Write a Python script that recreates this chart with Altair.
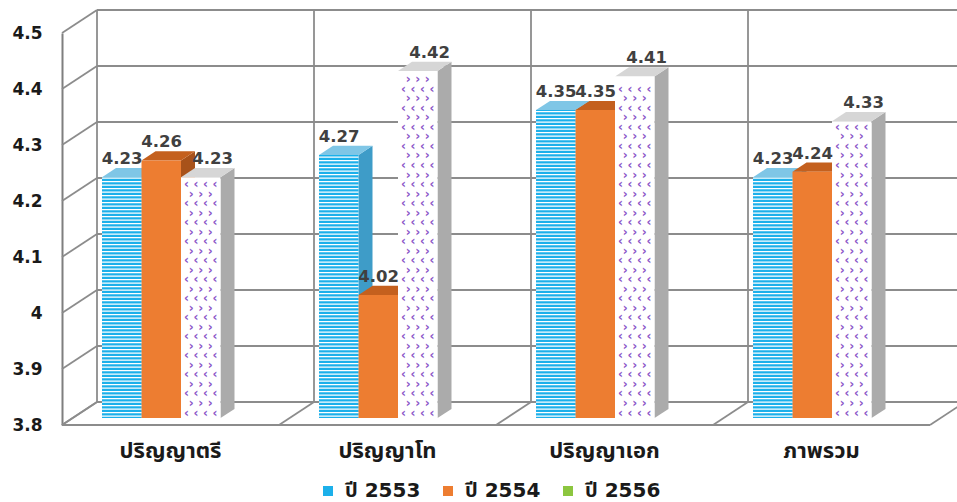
import altair as alt
import pandas as pd
import numpy as np

# ---------------- data ----------------
categories = ["ปริญญาตรี", "ปริญญาโท", "ปริญญาเอก", "ภาพรวม"]
series = ["ปี 2553", "ปี 2554", "ปี 2556"]
values_2553 = [4.23, 4.27, 4.35, 4.23]
values_2554 = [4.26, 4.02, 4.35, 4.24]
values_2556 = [4.23, 4.42, 4.41, 4.33]
y_ticks = [3.8, 3.9, 4.0, 4.1, 4.2, 4.3, 4.4, 4.5]

front_colors = ["#1CB0EA", "#ED7D31", "#FFFFFF"]
top_colors = ["#7FC6E6", "#C4601E", "#D6D6D6"]
side_colors = ["#3E9CC8", "#A8521A", "#ABABAB"]
legend_colors = ["#1CB0EA", "#ED7D31", "#8CC63F"]

# ---------------- 3D geometry (style) ----------------
Y0, Y1 = 3.8, 4.5
NCAT = len(categories)
DX = 35 / 217      # depth shift in category units
DY = 23 / 560      # depth shift in value units
F0 = 0.30          # depth of bar front
BD = 0.40          # bar depth
LEFT = 0.136
BW = 0.182

all_values = [values_2553, values_2554, values_2556]

fronts, tops, sides, legend_pts, labels = [], [], [], [], []
stripes, marks = [], []
for i, cat in enumerate(categories):
    for j, s in enumerate(series):
        v = all_values[j][i]
        bid = f"{i}-{j}"
        x0 = i + LEFT + j * BW + F0 * DX
        x1 = x0 + BW
        base = Y0 + F0 * DY
        top = v + F0 * DY
        fronts.append(dict(bar=bid, x0=x0, x1=x1, ya=base, yb=top, fill=front_colors[j]))
        tops.append(dict(bar=bid, yy=top, xa=x0, xb=x1, fill=top_colors[j]))
        tops.append(dict(bar=bid, yy=top + BD * DY, xa=x0 + BD * DX, xb=x1 + BD * DX, fill=top_colors[j]))
        sides.append(dict(bar=bid, xx=x1, ya=base, yb=top, fill=side_colors[j]))
        sides.append(dict(bar=bid, xx=x1 + BD * DX, ya=base + BD * DY, yb=top + BD * DY, fill=side_colors[j]))
        legend_pts.append(dict(series=s, xc=(x0 + x1) / 2, yc=(base + top) / 2))
        shift = 0.055 if j == 2 else 0.002
        labels.append(dict(lx=(x0 + x1) / 2 + shift, ly=v, txt=f"{v:.2f}"))
        if j == 0:
            for yy in np.arange(base + 0.0035, top - 0.001, 0.00625):
                stripes.append(dict(xa=x0, xb=x1, yy=yy))
        if j == 2:
            for r, yy in enumerate(np.arange(base + 0.01, top - 0.006, 0.017)):
                cols = [0.14, 0.38, 0.62, 0.86] if r % 2 == 0 else [0.26, 0.50, 0.74]
                for c, fr in enumerate(cols):
                    marks.append(dict(mx=x0 + fr * BW, my=yy, t="‹" if r % 2 == 0 else "›"))

lines = []
for t in y_ticks:
    lines.append(dict(xa=DX, xb=NCAT + DX, ya=t + DY, yb=t + DY))
    lines.append(dict(xa=0, xb=DX, ya=t, yb=t + DY))
for k in range(NCAT + 1):
    lines.append(dict(xa=k + DX, xb=k + DX, ya=Y0 + DY, yb=Y1 + DY))
    lines.append(dict(xa=k, xb=k + DX, ya=Y0, yb=Y0 + DY))
lines.append(dict(xa=0, xb=NCAT, ya=Y0, yb=Y0))

cat_df = pd.DataFrame(dict(cx=[i + 0.5 for i in range(NCAT)], cy=[Y0] * NCAT, cat=categories))

# ---------------- scales / helpers ----------------
xs = alt.Scale(domain=[0, NCAT], nice=False, zero=False)
ys = alt.Scale(domain=[Y0, Y1], nice=False, zero=False)
yaxis = alt.Axis(values=y_ticks, labelExpr="format(datum.value, '.1~f')", ticks=False, grid=False,
                 domain=True, domainColor="#7F7F7F", domainWidth=2, labelPadding=20,
                 labelFontSize=17, labelFontWeight="bold", labelFont="DejaVu Sans",
                 labelColor="#1A1A1A", title=None)


def X(f):
    return alt.X(f, type="quantitative", scale=xs, axis=None, stack=False)


def Y(f):
    return alt.Y(f, type="quantitative", scale=ys, axis=yaxis, stack=False)


grid = alt.Chart(pd.DataFrame(lines)).mark_rule(color="#8C8C8C", strokeWidth=1.8).encode(
    x=X("xa"), x2=alt.X2("xb"), y=Y("ya"), y2=alt.Y2("yb"))

legend_layer = alt.Chart(pd.DataFrame(legend_pts)).mark_square(size=100, opacity=1, filled=True).encode(
    x=X("xc"), y=Y("yc"),
    color=alt.Color("series:N", scale=alt.Scale(domain=series, range=legend_colors),
                    legend=alt.Legend(title=None, orient="none", direction="horizontal",
                                      legendX=256, legendY=448, symbolType="square",
                                      symbolSize=100, symbolStrokeWidth=0,
                                      labelFontSize=20, labelFontWeight="bold",
                                      labelFont="DejaVu Sans, Tahoma, Noto Sans Thai",
                                      labelColor="#1A1A1A", columnPadding=17, labelOffset=7)))

side_layer = alt.Chart(pd.DataFrame(sides)).mark_area(orient="vertical").encode(
    x=X("xx"), y=Y("ya"), y2=alt.Y2("yb"), detail="bar:N", fill=alt.Fill("fill:N", scale=None))

top_layer = alt.Chart(pd.DataFrame(tops)).mark_area(orient="horizontal").encode(
    y=Y("yy"), x=X("xa"), x2=alt.X2("xb"), detail="bar:N", fill=alt.Fill("fill:N", scale=None))

front_layer = alt.Chart(pd.DataFrame(fronts)).mark_rect().encode(
    x=X("x0"), x2=alt.X2("x1"), y=Y("ya"), y2=alt.Y2("yb"), fill=alt.Fill("fill:N", scale=None))

stripe_layer = alt.Chart(pd.DataFrame(stripes)).mark_rule(color="white", strokeWidth=1.3).encode(
    x=X("xa"), x2=alt.X2("xb"), y=Y("yy"))

mark_layer = alt.Chart(pd.DataFrame(marks)).mark_text(
    font="DejaVu Sans", fontSize=12, fontWeight="bold", color="#8A55C8").encode(
    x=X("mx"), y=Y("my"), text="t:N")

label_layer = alt.Chart(pd.DataFrame(labels)).mark_text(
    font="DejaVu Sans", fontSize=16.5, fontWeight="bold", color="#404040",
    baseline="alphabetic", dy=-20).encode(x=X("lx"), y=Y("ly"), text="txt:N")

cat_layer = alt.Chart(cat_df).mark_text(
    font="Tahoma, Noto Sans Thai, DejaVu Sans", fontSize=22, fontWeight="bold", color="#1A1A1A",
    baseline="middle", dy=26).encode(x=X("cx"), y=Y("cy"), text="cat:N")

chart = alt.layer(grid, legend_layer, side_layer, top_layer, front_layer, stripe_layer,
                  mark_layer, label_layer, cat_layer).properties(
    width=868, height=392,
    autosize=alt.AutoSizeParams(type="none"),
    padding={"left": 62, "top": 33, "right": 27, "bottom": 77},
    background="white",
).configure_view(strokeWidth=0)

chart.save("out.html", embed_options={"renderer": "svg", "actions": False})
